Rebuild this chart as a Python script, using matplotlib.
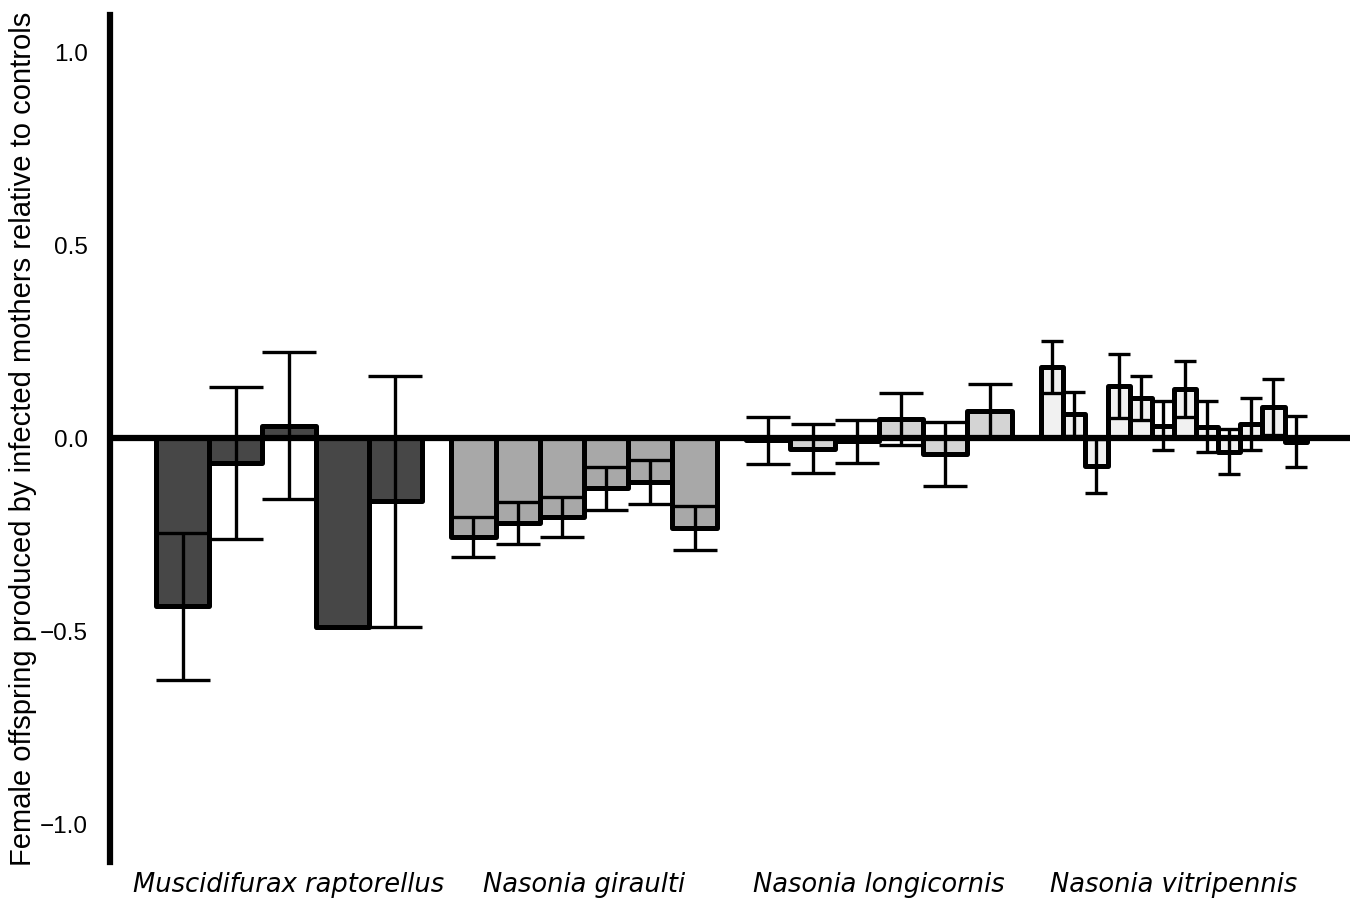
import matplotlib
matplotlib.use("Agg")
import matplotlib.pyplot as plt
import numpy as np

species = ["Muscidifurax raptorellus", "Nasonia giraulti",
           "Nasonia longicornis", "Nasonia vitripennis"]

mr_mean = [-0.436, -0.065, 0.032, -0.490, -0.163]
mr_se = [0.190, 0.197, 0.190, 0.000, 0.325]

ng_mean = [-0.256, -0.220, -0.205, -0.130, -0.114, -0.234]
ng_se = [0.051, 0.055, 0.052, 0.055, 0.057, 0.057]

nl_mean = [-0.006, -0.027, -0.008, 0.050, -0.042, 0.071]
nl_se = [0.060, 0.063, 0.056, 0.068, 0.083, 0.070]

nv_mean = [0.184, 0.062, -0.073, 0.135, 0.104, 0.032,
           0.127, 0.030, -0.035, 0.036, 0.080, -0.009]
nv_se = [0.067, 0.057, 0.070, 0.083, 0.057, 0.063,
         0.072, 0.065, 0.058, 0.067, 0.073, 0.066]

ytick_vals = [-1.0, -0.5, 0.0, 0.5, 1.0]
ytick_labels = ["\u22121.0", "\u22120.5", "0.0", "0.5", "1.0"]

means = [mr_mean, ng_mean, nl_mean, nv_mean]
ses = [mr_se, ng_se, nl_se, nv_se]
fills = ["#474747", "#A8A8A8", "#D4D4D4", "#F1F1F1"]

W, H = 13.56, 9.01
fig = plt.figure(figsize=(W, H), dpi=100)
left, right, bottom, top = 110 / 1356, 1350 / 1356, 39 / 901, 886 / 901
ax = fig.add_axes([left, bottom, right - left, top - bottom])

xlim = (0.393, 4.597)
ylim = (-1.098, 1.096)
ax.set_xlim(*xlim)
ax.set_ylim(*ylim)
px_per_x = (right - left) * W * 100 / (xlim[1] - xlim[0])

dodge = 0.9
for g, (m, s, fc) in enumerate(zip(means, ses, fills)):
    n = len(m)
    bw = dodge / n
    xs = (g + 1) + (np.arange(n) - (n - 1) / 2) * bw
    ax.bar(xs, m, width=bw, color=fc, edgecolor="black", linewidth=3.6,
           zorder=2, joinstyle="round")
    capsize = bw / 2 * px_per_x * 0.72
    ax.errorbar(xs, m, yerr=s, fmt="none", ecolor="black", elinewidth=2.4,
                capsize=capsize, capthick=2.4, zorder=3)

ax.axhline(0, color="black", linewidth=4.5, zorder=4)

for sp in ["top", "right", "bottom"]:
    ax.spines[sp].set_visible(False)
ax.spines["left"].set_linewidth(4.5)
ax.spines["left"].set_zorder(5)

ax.set_yticks(ytick_vals)
ax.set_yticklabels(ytick_labels, fontfamily="Liberation Sans", fontsize=17.5)
ax.set_xticks([1, 2, 3, 4])
ax.set_xticklabels(species, fontstyle="italic", fontsize=18.5)
ax.tick_params(axis="both", length=0, colors="black")
ax.tick_params(axis="y", pad=16)
ax.tick_params(axis="x", pad=7)

ax.set_ylabel("Female offspring produced by infected mothers relative to controls",
              fontsize=21, fontfamily="Liberation Sans")
ax.yaxis.set_label_coords(-0.059, 0.5)

fig.savefig("out.png", dpi=100)
